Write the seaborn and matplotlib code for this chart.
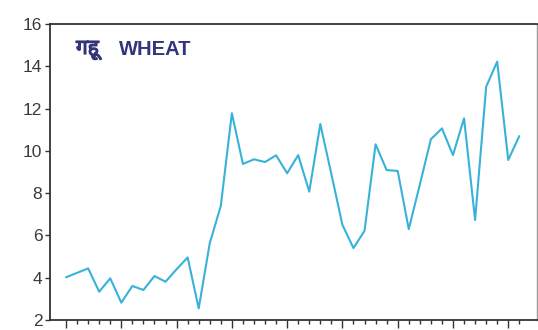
import numpy as np
import pandas as pd
import matplotlib
matplotlib.use("Agg")
import matplotlib.pyplot as plt
import matplotlib.patheffects as pe
import seaborn as sns
from matplotlib import font_manager
from matplotlib.ft2font import FT2Font
from matplotlib.ticker import FixedLocator

# ---- data ----
wheat = [4.02, 4.23, 4.44, 3.34, 3.97, 2.82, 3.61, 3.42, 4.08, 3.81,
         4.40, 4.96, 2.55, 5.63, 7.40, 11.78, 9.38, 9.60, 9.47, 9.79,
         8.94, 9.80, 8.07, 11.27, 8.90, 6.50, 5.40, 6.22, 10.31, 9.09,
         9.05, 6.30, 8.40, 10.55, 11.06, 9.80, 11.54, 6.73, 13.03, 14.22,
         9.57, 10.70]
period = list(range(len(wheat)))
yticks = [2, 4, 6, 8, 10, 12, 14, 16]
title_hi = "गहू"
title_en = "WHEAT"

df = pd.DataFrame({"period": period, "wheat": wheat})


def find_font(ch, preferred=()):
    for name in preferred:
        try:
            path = font_manager.findfont(name, fallback_to_default=False)
            if ord(ch) in FT2Font(path).get_charmap():
                return name
        except Exception:
            pass
    for f in font_manager.fontManager.ttflist:
        try:
            if ord(ch) in FT2Font(f.fname).get_charmap():
                return f.name
        except Exception:
            pass
    return "DejaVu Sans"


sns.set_theme(style="white")
plt.rcParams["font.family"] = ["Liberation Sans", "DejaVu Sans"]
plt.rcParams.update({
    "xtick.bottom": True, "ytick.left": True,
    "xtick.minor.visible": True,
    "xtick.major.size": 5.5, "xtick.minor.size": 3.2,
    "xtick.major.width": 1, "xtick.minor.width": 1,
    "xtick.color": "#333333", "ytick.color": "#333333",
    "ytick.major.size": 3.5, "ytick.major.width": 1,
    "ytick.minor.visible": False,
})

fig = plt.figure(figsize=(5.38, 3.30), dpi=100)
ax = fig.add_axes([50 / 538, 1 - 320 / 330, 487 / 538, 296 / 330])

sns.lineplot(data=df, x="period", y="wheat", ax=ax, color="#38b2d9",
             linewidth=1.5)

ax.set_xlim(-1.45, 42.6)
ax.set_ylim(2, 16)
ax.set_yticks(yticks)
ax.set_yticklabels([str(v) for v in yticks])
ax.xaxis.set_major_locator(FixedLocator(period[::5]))
ax.xaxis.set_minor_locator(FixedLocator(period))
ax.tick_params(axis="x", which="both", labelbottom=False)
ax.set_xlabel("")
ax.set_ylabel("")

ax.tick_params(axis="y", which="major", pad=2, labelsize=12.5,
               labelcolor="#3a3a3a")

for side in ["left", "bottom", "top"]:
    ax.spines[side].set_color("#333333")
    ax.spines[side].set_linewidth(1.3)
ax.spines["right"].set_color("#999999")
ax.spines["right"].set_linewidth(1.0)

dev_font = find_font("ग", ["Noto Sans Devanagari", "Lohit Devanagari",
                            "FreeSans", "Mukta", "Mangal", "Gargi"])
fig.text(76 / 538, 1 - 49 / 330, title_hi, family=[dev_font, "DejaVu Sans"],
         fontsize=15, fontweight="bold", color="#33347a", va="center",
         ha="left",
         path_effects=[pe.withStroke(linewidth=0.9, foreground="#33347a")])
fig.text(119 / 538, 1 - 49.5 / 330, title_en, family=["Liberation Sans"],
         fontsize=14.5, fontweight="bold", color="#33347a", va="center",
         ha="left")

fig.savefig("out.png", dpi=100)
